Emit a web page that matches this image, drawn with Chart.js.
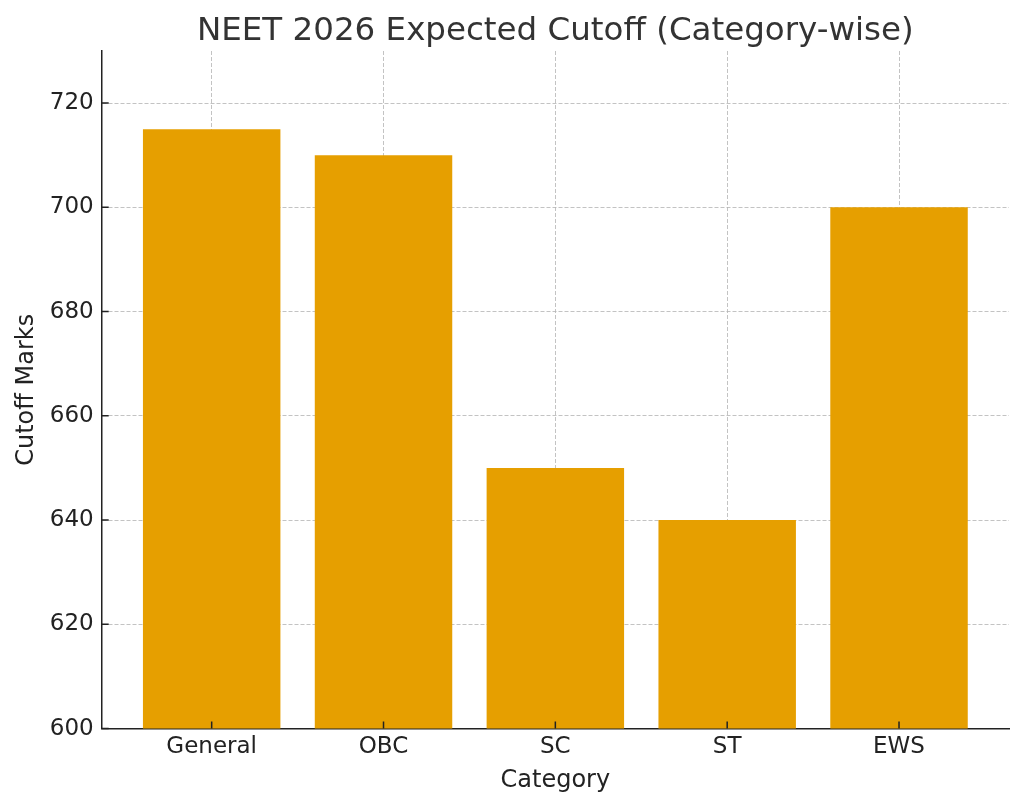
<!DOCTYPE html>
<html>
<head>
<meta charset="utf-8">
<script src="https://cdn.jsdelivr.net/npm/chart.js@4"></script>
<style>
    html, body { margin: 0; padding: 0; background: #fff; }
    #wrap { width: 1024px; height: 807px; }
</style>
</head>
<body>
<div id="wrap"><canvas id="chartCutoff"></canvas></div>
<script>
const categories = ['General', 'OBC', 'SC', 'ST', 'EWS'];
const cutoffValues = [715, 710, 650, 640, 700];
const yTicks = [600, 620, 640, 660, 680, 700, 720];

// small inward tick marks, like the original
const innerTicks = {
    id: 'innerTicks',
    afterDraw(chart) {
        const { ctx, chartArea, scales } = chart;
        ctx.save();
        ctx.strokeStyle = '#222';
        ctx.lineWidth = 1.5;
        ctx.beginPath();
        scales.x.ticks.forEach((t, i) => {
            const px = scales.x.getPixelForTick(i);
            ctx.moveTo(px, chartArea.bottom);
            ctx.lineTo(px, chartArea.bottom - 7);
        });
        scales.y.ticks.forEach((t, i) => {
            const py = scales.y.getPixelForTick(i);
            ctx.moveTo(chartArea.left, py);
            ctx.lineTo(chartArea.left + 7, py);
        });
        ctx.stroke();
        ctx.restore();
    }
};

const gridStyle = {
    color: 'rgba(180, 180, 180, 0.8)',
    lineWidth: 1,
    drawTicks: false,
    offset: false
};

new Chart(document.getElementById('chartCutoff'), {
    type: 'bar',
    data: {
        datasets: [{
            label: 'Cutoff Marks',
            data: cutoffValues.map((v, i) => ({ x: i, y: v })),
            backgroundColor: '#E69F00',
            borderWidth: 0,
            barPercentage: 1,
            categoryPercentage: 0.8
        }]
    },
    options: {
        responsive: true,
        maintainAspectRatio: false,
        animation: false,
        layout: { padding: { right: 15, left: 12, bottom: 12 } },
        plugins: {
            legend: { display: false },
            tooltip: { enabled: false },
            title: {
                display: true,
                text: 'NEET 2026 Expected Cutoff (Category-wise)',
                fullSize: false,
                color: '#333333',
                font: { family: 'DejaVu Sans', size: 32.5, weight: 'normal' },
                padding: { top: 12, bottom: 0 }
            }
        },
        scales: {
            x: {
                type: 'linear',
                min: -0.64,
                max: 4.64,
                offset: false,
                z: 1,
                afterBuildTicks: (scale) => {
                    scale.ticks = categories.map((c, i) => ({ value: i }));
                },
                ticks: {
                    callback: (value) => categories[value],
                    color: '#222222',
                    font: { family: 'DejaVu Sans', size: 23 },
                    padding: 5,
                    maxRotation: 0
                },
                grid: { ...gridStyle },
                border: { display: true, color: '#222', width: 1.5, dash: [4, 2] },
                title: {
                    display: true,
                    text: 'Category',
                    color: '#222222',
                    font: { family: 'DejaVu Sans', size: 24 },
                    padding: { top: 0, bottom: 0 }
                }
            },
            y: {
                min: 600,
                max: 730,
                z: 1,
                afterBuildTicks: (scale) => {
                    scale.ticks = yTicks.map(v => ({ value: v }));
                },
                ticks: {
                    color: '#222222',
                    font: { family: 'DejaVu Sans', size: 23 },
                    padding: 8
                },
                grid: { ...gridStyle },
                border: { display: true, color: '#222', width: 1.5, dash: [4, 2] },
                title: {
                    display: true,
                    text: 'Cutoff Marks',
                    color: '#222222',
                    font: { family: 'DejaVu Sans', size: 24 },
                    padding: { top: 0, bottom: 1 }
                }
            }
        }
    },
    plugins: [innerTicks]
});
</script>
</body>
</html>
